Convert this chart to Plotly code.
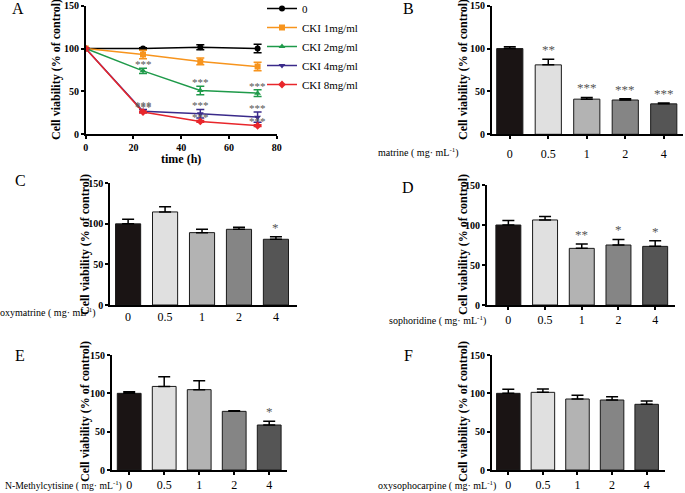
import plotly.graph_objects as go

W, H = 685, 493
FONT = "Liberation Serif"

# ---------------- Panel A data ----------------
time_h = [0, 24, 48, 72]
series_names = ["0", "CKI 1mg/ml", "CKI 2mg/ml", "CKI 4mg/ml", "CKI 8mg/ml"]
v0 = [100, 100, 101.5, 100]
e0 = [0, 1, 3, 5]
v1 = [100, 93, 85, 79]
e1 = [0, 5, 4, 5]
v2 = [100, 74, 51, 48]
e2 = [0, 3, 5, 4]
v4 = [100, 27, 24, 20]
e4 = [0, 2, 5, 6]
v8 = [100, 26, 15, 10]
e8 = [0, 1, 1, 1]
# significance marks for panel A (per series, per time point)
stars_A2 = ["", "***", "***", "***"]
stars_A4 = ["", "***", "***", "***"]
stars_A8 = ["", "***", "***", "***"]

# ---------------- Bar panels data ----------------
conc_labels = ["0", "0.5", "1", "2", "4"]
matrine = [100, 81, 41, 40, 35.5]
matrine_err = [2, 6.5, 2, 1.5, 1]
matrine_sig = ["", "**", "***", "***", "***"]

oxymatrine = [100, 114.7, 89.2, 93.3, 81]
oxymatrine_err = [5.6, 6.3, 4.1, 2.5, 3.2]
oxymatrine_sig = ["", "", "", "", "*"]

sophoridine = [100, 106.3, 70.8, 75, 73.3]
sophoridine_err = [5.5, 4.2, 5.5, 7, 7.1]
sophoridine_sig = ["", "", "**", "*", "*"]

nmethyl = [100, 109, 104.8, 76.5, 58.7]
nmethyl_err = [2, 12.6, 11.7, 0.9, 4.8]
nmethyl_sig = ["", "", "", "", "*"]

oxysopho = [100, 101.3, 92.6, 91.3, 85.7]
oxysopho_err = [5.2, 4.4, 4.8, 4.4, 4.3]
oxysopho_sig = ["", "", "", "", ""]

bar_colors = ["#1a1414", "#e0e0e0", "#b3b3b3", "#858585", "#555555"]
line_colors = ["#000000", "#f7941d", "#1f9a4a", "#3a2a8a", "#e8262b"]
markers = ["circle", "square", "triangle-up", "triangle-down", "diamond"]


def px_x(p):
    return p / W


def px_y(p):
    return 1 - p / H


fig = go.Figure()

# ---------------- Panel A ----------------
A_vals = [v0, v1, v2, v4, v8]
A_errs = [e0, e1, e2, e4, e8]
for name, vals, errs, col, sym in zip(series_names, A_vals, A_errs, line_colors, markers):
    fig.add_trace(go.Scatter(
        x=time_h, y=vals, name=name, mode="lines+markers",
        line=dict(color=col, width=1.5),
        marker=dict(color=col, symbol=sym, size=6),
        error_y=dict(type="data", array=errs, color=col, thickness=1.5, width=4),
        xaxis="x", yaxis="y", showlegend=True,
    ))

annotations = []
for vals, errs, sig in [(v2, e2, stars_A2), (v4, e4, stars_A4), (v8, e8, stars_A8)]:
    for t, v, e, s in zip(time_h, vals, errs, sig):
        if s:
            annotations.append(dict(
                x=t, y=v + e, xref="x", yref="y", text=s, showarrow=False,
                yanchor="bottom", yshift=-4,
                font=dict(family=FONT, size=11, color="#555555")))

# ---------------- Bar panels ----------------
panels = [
    # (axis idx, values, errs, sig, label, x0px, x1px, ytop_px, ybot_px, range, tickstandoff, ticklen)
    (2, matrine, matrine_err, matrine_sig, "matrine ( mg· mL<sup>-1</sup>)", 491.7, 683, 5.7, 134.3, [-0.47, 4.5], 5, 3),
    (3, oxymatrine, oxymatrine_err, oxymatrine_sig, "oxymatrine ( mg· mL<sup>-1</sup>)", 110, 297, 183.3, 305, [-0.49, 4.57], 0, 0),
    (4, sophoridine, sophoridine_err, sophoridine_sig, "sophoridine ( mg· mL<sup>-1</sup>)", 486.7, 675, 185, 305, [-0.59, 4.54], 0, 3),
    (5, nmethyl, nmethyl_err, nmethyl_sig, "N-Methylcytisine ( mg· mL<sup>-1</sup>)", 111.7, 286.7, 355, 470, [-0.5, 4.5], 0, 3),
    (6, oxysopho, oxysopho_err, oxysopho_sig, "oxysophocarpine ( mg· mL<sup>-1</sup>)", 491.7, 665, 355, 470, [-0.48, 4.53], 0, 3),
]
label_pos = {2: (461, 152), 3: (98, 312), 4: (488, 320), 5: (124, 485), 6: (498, 485)}
label_size = {2: 10, 3: 10, 4: 10, 5: 9.7, 6: 10}

xpos = list(range(len(conc_labels)))

axis_common = dict(
    showline=True, linecolor="black", linewidth=1.5, ticks="outside",
    tickcolor="black", tickwidth=1.5, ticklen=3, showgrid=False, zeroline=False,
    automargin=False,
)

for idx, vals, errs, sig, label, x0, x1, yt, yb, rng, tso, tlen in panels:
    xa = f"x{idx}"
    ya = f"y{idx}"
    fig.add_trace(go.Bar(
        x=xpos, y=vals, marker=dict(color=bar_colors, line=dict(color="#1a1a1a", width=1)),
        width=0.68, showlegend=False, xaxis=xa, yaxis=ya,
        error_y=dict(type="data", symmetric=False, array=errs, arrayminus=[0] * len(errs),
                     color="black", thickness=1.5, width=6),
    ))
    for xi, v, e, s in zip(xpos, vals, errs, sig):
        if s:
            annotations.append(dict(
                x=xi, y=v + e, xref=xa, yref=ya, text=s, showarrow=False,
                yanchor="bottom", yshift=0,
                font=dict(family=FONT, size=13, color="#555555")))
    fig.update_layout(**{
        f"xaxis{idx}": dict(
            axis_common, domain=[px_x(x0), px_x(x1)], range=rng, anchor=ya,
            tickvals=xpos, ticktext=conc_labels, ticklen=tlen,
            ticks="outside" if tlen else "",
            ticklabelstandoff=tso,
            tickfont=dict(family=FONT, size=12, color="black")),
        f"yaxis{idx}": dict(
            axis_common, domain=[px_y(yb), px_y(yt)], range=[0, 150], anchor=xa,
            tickvals=[0, 50, 100, 150],
            tickfont=dict(family=FONT, size=10, color="black", weight="bold")),
    })
    lx, ly = label_pos[idx]
    annotations.append(dict(
        x=px_x(lx), y=px_y(ly), xref="paper", yref="paper", text=label, showarrow=False,
        xanchor="right", yanchor="middle",
        font=dict(family=FONT, size=label_size[idx], color="black")))

# ---------------- Panel A axes ----------------
fig.update_layout(
    xaxis=dict(axis_common, domain=[px_x(85.7), px_x(276.7)], range=[0, 80], anchor="y",
               tickvals=[0, 20, 40, 60, 80],
               tickfont=dict(family=FONT, size=10, color="black", weight="bold")),
    yaxis=dict(axis_common, domain=[px_y(134.3), px_y(5.7)], range=[0, 150], anchor="x",
               tickvals=[0, 50, 100, 150],
               tickfont=dict(family=FONT, size=10, color="black", weight="bold")),
)
annotations.append(dict(
    x=px_x(181), y=px_y(159), xref="paper", yref="paper", text="<b>time (h)</b>",
    showarrow=False, xanchor="center", yanchor="middle",
    font=dict(family=FONT, size=12, color="black")))

# y-axis titles
ytitle_pos = [(56, 70), (463, 70), (85, 245), (463, 245), (85, 412), (463, 412)]
for (tx, ty) in ytitle_pos:
    annotations.append(dict(
        x=px_x(tx), y=px_y(ty), xref="paper", yref="paper",
        text="<b>Cell viability (% of control)</b>", textangle=-90, showarrow=False,
        xanchor="center", yanchor="middle", font=dict(family=FONT, size=12, color="black")))

# panel letters
letters = ["A", "B", "C", "D", "E", "F"]
letter_pos = [(18, 9), (408, 9), (20, 180), (408, 187), (20, 355), (408, 355)]
for L, (lx, ly) in zip(letters, letter_pos):
    annotations.append(dict(
        x=px_x(lx), y=px_y(ly), xref="paper", yref="paper", text=L, showarrow=False,
        xanchor="center", yanchor="middle", font=dict(family=FONT, size=16, color="black")))

fig.update_layout(
    template="none",
    width=W, height=H, margin=dict(l=0, r=0, t=0, b=0, autoexpand=False),
    paper_bgcolor="white", plot_bgcolor="white",
    annotations=annotations,
    legend=dict(x=px_x(262), y=px_y(-6), xanchor="left", yanchor="top",
                font=dict(family=FONT, size=11, color="black"), bgcolor="rgba(0,0,0,0)",
                itemwidth=30, tracegroupgap=0),
    font=dict(family=FONT),
)

fig.write_html("out.html", config={"displayModeBar": False},
               post_script="document.body.style.margin='0';document.body.style.padding='0';")
